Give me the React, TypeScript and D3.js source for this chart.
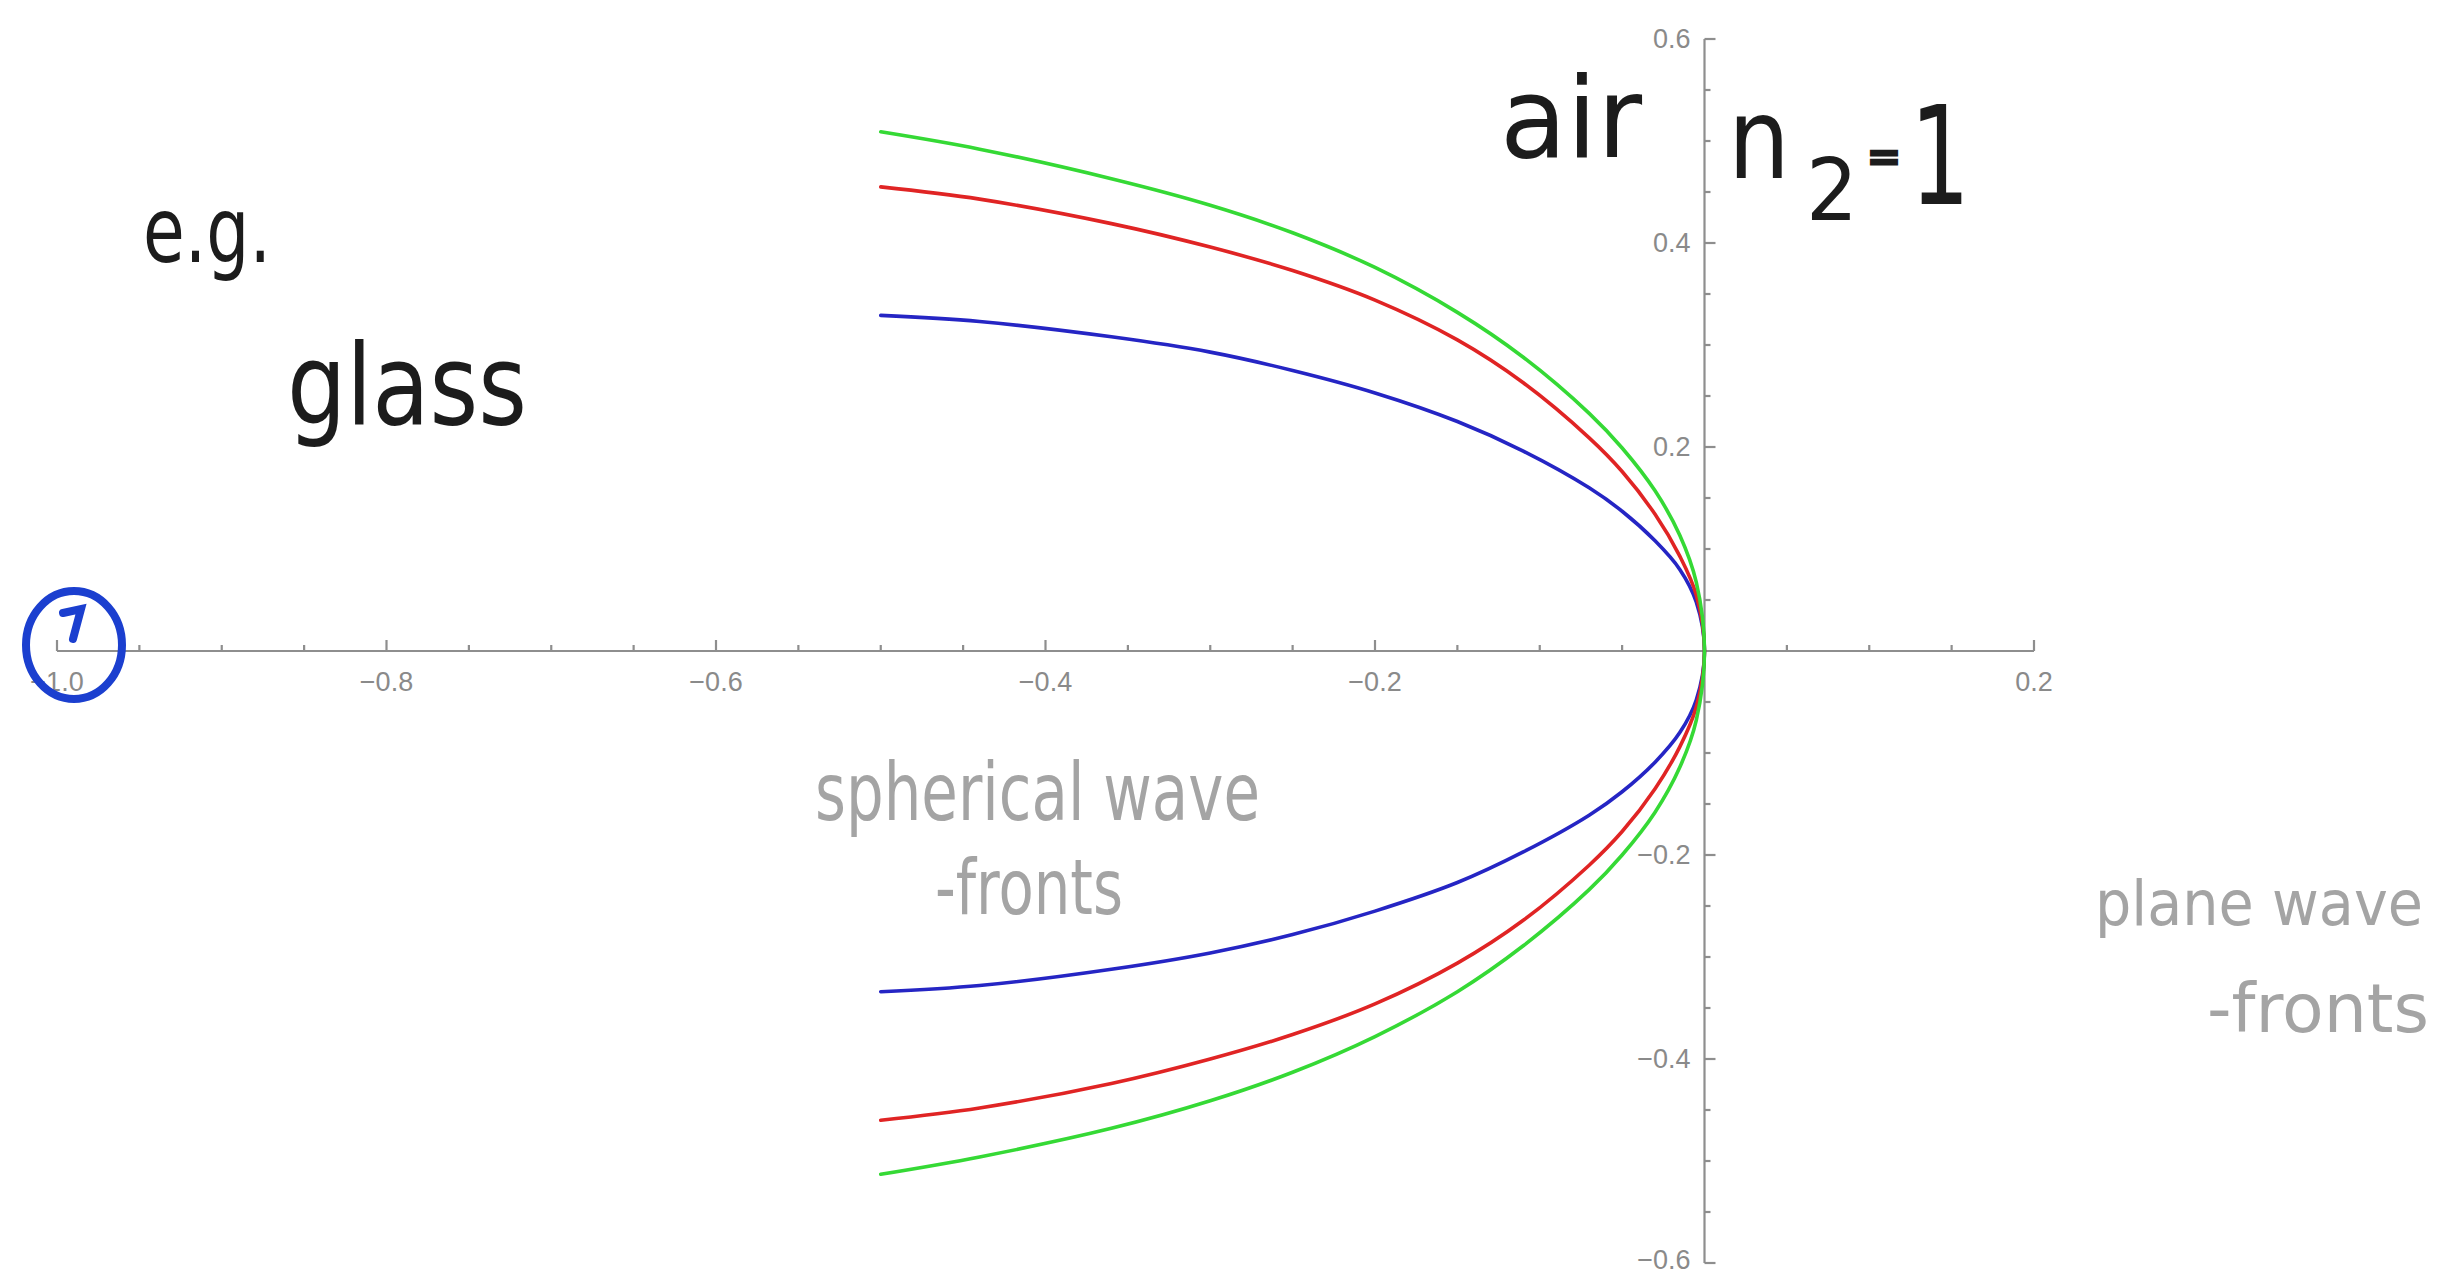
import * as d3 from "d3";

const frontX = [-0.5, -0.44, -0.36, -0.3, -0.25, -0.2, -0.15, -0.11, -0.07, -0.05, -0.03, -0.015, -0.005, 0];
const greenUpper = [0.509, 0.492, 0.463, 0.437, 0.41, 0.376, 0.332, 0.288, 0.233, 0.199, 0.157, 0.1135, 0.0675, 0];
const greenLower = [-0.513, -0.496, -0.468, -0.441, -0.413, -0.378, -0.334, -0.289, -0.234, -0.2, -0.158, -0.114, -0.068, 0];
const redUpper = [0.455, 0.443, 0.419, 0.396, 0.373, 0.344, 0.305, 0.263, 0.209, 0.176, 0.134, 0.093, 0.055, 0];
const redLower = [-0.46, -0.448, -0.424, -0.4, -0.376, -0.346, -0.306, -0.264, -0.21, -0.177, -0.135, -0.094, -0.055, 0];
const blueUpper = [0.329, 0.323, 0.308, 0.293, 0.275, 0.253, 0.225, 0.196, 0.16, 0.137, 0.108, 0.08, 0.048, 0];
const blueLower = [-0.334, -0.328, -0.312, -0.296, -0.278, -0.255, -0.227, -0.197, -0.161, -0.138, -0.109, -0.08, -0.048, 0];

const xTicks = [-1.0, -0.8, -0.6, -0.4, -0.2, 0.2];
const xTickLabels = ["\u22121.0", "\u22120.8", "\u22120.6", "\u22120.4", "\u22120.2", "0.2"];
const yTicks = [-0.6, -0.4, -0.2, 0.2, 0.4, 0.6];
const yTickLabels = ["\u22120.6", "\u22120.4", "\u22120.2", "0.2", "0.4", "0.6"];

const W = 2463;
const H = 1276;
const axisColor = "#8e8e8e";
const labelColor = "#8a8a8a";
const inkColor = "#1c1c1c";
const pencilColor = "#a4a4a4";
const handFont = "'DejaVu Sans', 'Noto Sans', sans-serif";

export default function App() {
  const x = d3.scaleLinear().domain([-1, 0.2]).range([57, 2034]);
  const y = d3.scaleLinear().domain([-0.6, 0.6]).range([1263, 39]);

  const line = d3
    .line<[number, number]>()
    .x((d) => x(d[0]))
    .y((d) => y(d[1]))
    .curve(d3.curveCatmullRom.alpha(0.5));

  function frontPath(upper: number[], lower: number[]) {
    const bottom = frontX.map((v, i) => [v, lower[i]] as [number, number]);
    const top = frontX
      .slice(0, -1)
      .map((v, i) => [v, upper[i]] as [number, number])
      .reverse();
    return line([...bottom, ...top]) || "";
  }

  const fronts = [
    { color: "#2525c4", upper: blueUpper, lower: blueLower },
    { color: "#e02424", upper: redUpper, lower: redLower },
    { color: "#35d935", upper: greenUpper, lower: greenLower },
  ];

  const xMinor = d3.range(-20, 5).filter((i) => i % 4 !== 0).map((i) => i * 0.05);
  const yMinor = d3.range(-12, 13).filter((i) => i % 4 !== 0).map((i) => i * 0.05);

  const x0 = x(0);
  const y0 = y(0);

  return (
    <svg
      width={W}
      height={H}
      viewBox={`0 0 ${W} ${H}`}
      style={{ position: "absolute", left: 0, top: 0, display: "block", background: "#fff" }}
    >
      {/* axes */}
      <g stroke={axisColor} strokeWidth={2.2} fill="none">
        <line x1={x(-1)} x2={x(0.2)} y1={y0} y2={y0} />
        <line x1={x0} x2={x0} y1={y(-0.6)} y2={y(0.6)} />
        {xTicks.map((t) => (
          <line key={`xM${t}`} x1={x(t)} x2={x(t)} y1={y0} y2={y0 - 11} />
        ))}
        {xMinor.map((t) => (
          <line key={`xm${t}`} x1={x(t)} x2={x(t)} y1={y0} y2={y0 - 6} />
        ))}
        {yTicks.map((t) => (
          <line key={`yM${t}`} x1={x0} x2={x0 + 11} y1={y(t)} y2={y(t)} />
        ))}
        {yMinor.map((t) => (
          <line key={`ym${t}`} x1={x0} x2={x0 + 6} y1={y(t)} y2={y(t)} />
        ))}
      </g>
      <g fill={labelColor} fontFamily="'Liberation Sans', Arial, sans-serif" fontSize={27}>
        {xTicks.map((t, i) => (
          <text key={`xl${t}`} x={x(t)} y={y0 + 40} textAnchor="middle">
            {xTickLabels[i]}
          </text>
        ))}
        {yTicks.map((t, i) => (
          <text key={`yl${t}`} x={x0 - 14} y={Math.min(y(t) + 9, H - 7)} textAnchor="end">
            {yTickLabels[i]}
          </text>
        ))}
      </g>

      {/* wave fronts */}
      <g fill="none" strokeWidth={3.6} strokeLinecap="round">
        {fronts.map((f) => (
          <path key={f.color} d={frontPath(f.upper, f.lower)} stroke={f.color} />
        ))}
      </g>

      {/* handwritten notes */}
      <g fill={inkColor} fontFamily={handFont}>
        <text x={143} y={262} fontSize={90} textLength={128} lengthAdjust="spacingAndGlyphs">
          e.g.
        </text>
        <text x={287} y={424} fontSize={112} textLength={240} lengthAdjust="spacingAndGlyphs">
          glass
        </text>
        <text x={1500} y={157} fontSize={112} textLength={142} lengthAdjust="spacingAndGlyphs">
          air
        </text>
        <text x={1728} y={178} fontSize={112} textLength={62} lengthAdjust="spacingAndGlyphs">
          n
        </text>
        <text x={1806} y={220} fontSize={86} textLength={52} lengthAdjust="spacingAndGlyphs">
          2
        </text>
        <text
          x={1867}
          y={172}
          fontSize={44}
          stroke={inkColor}
          strokeWidth={3}
          textLength={34}
          lengthAdjust="spacingAndGlyphs"
        >
          =
        </text>
        <text x={1910} y={204} fontSize={138} textLength={60} lengthAdjust="spacingAndGlyphs">
          1
        </text>
      </g>
      <g fill={pencilColor} fontFamily={handFont}>
        <text x={815} y={820} fontSize={80} textLength={445} lengthAdjust="spacingAndGlyphs">
          spherical wave
        </text>
        <text x={935} y={914} fontSize={76} textLength={188} lengthAdjust="spacingAndGlyphs">
          -fronts
        </text>
        <text x={2095} y={925} fontSize={62} textLength={328} lengthAdjust="spacingAndGlyphs">
          plane wave
        </text>
        <text x={2207} y={1032} fontSize={68} textLength={222} lengthAdjust="spacingAndGlyphs">
          -fronts
        </text>
      </g>

      {/* circled source point */}
      <g fill="none" stroke="#1b3fcf" strokeWidth={8} strokeLinecap="round">
        <ellipse cx={x(-1) + 17} cy={y0 - 6} rx={48} ry={54} />
        <path d={`M${x(-1) + 6},${y0 - 38} L${x(-1) + 24},${y0 - 42} L${x(-1) + 16},${y0 - 12}`} />
      </g>
    </svg>
  );
}
